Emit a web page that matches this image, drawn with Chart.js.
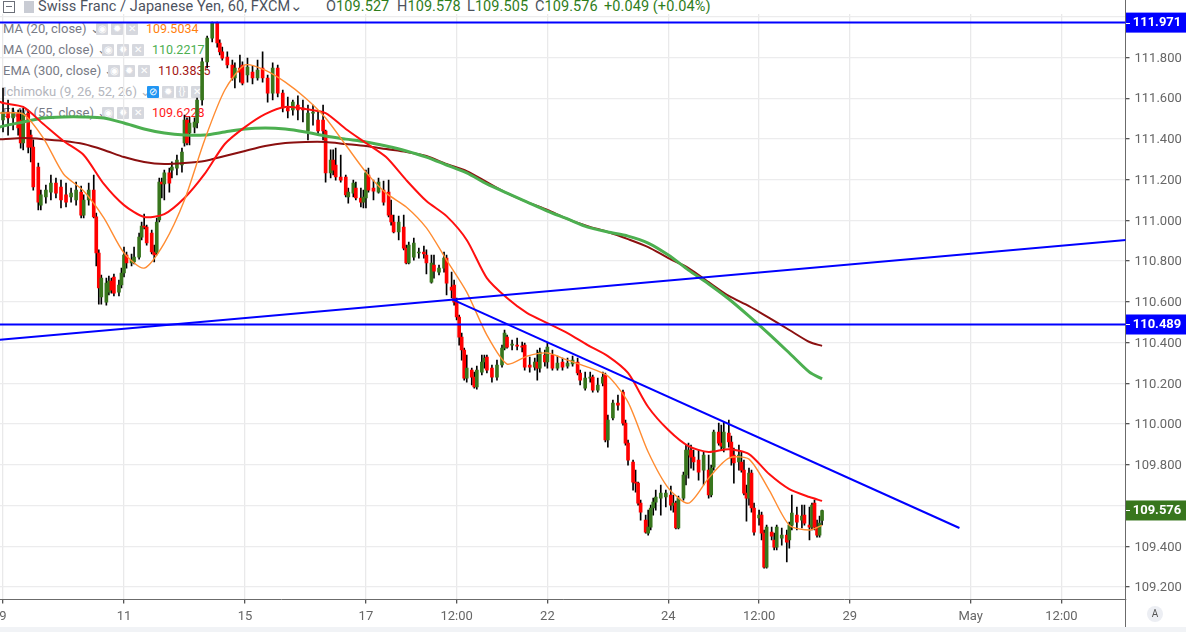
<!DOCTYPE html>
<html>
<head>
<meta charset="utf-8">
<title>CHF/JPY 60</title>
<script src="https://cdn.jsdelivr.net/npm/chart.js@4/dist/chart.umd.min.js"></script>
<style>
  html, body { margin: 0; padding: 0; background: #fff; width: 1186px; height: 632px; overflow: hidden; }
  body { position: relative; font-family: Roboto, "Liberation Sans", sans-serif; color: #4c525e; }
  #chart { position: absolute; left: 0; top: 0; z-index: 1; }
  .header { position: absolute; left: 0; top: 0; width: 1125px; height: 14px; background: #fff; z-index: 2; overflow: hidden; font-size: 14.5px; letter-spacing: 0.08px; line-height: 14px; white-space: nowrap; }
  .header span { position: absolute; top: 0; }
  .header b { font-weight: 400; color: #2f7d1c; }
  .minus { position: absolute; left: 3px; top: 1px; width: 10px; height: 10px; border: 1px solid #6b6f78; }
  .minus::after { content: ""; position: absolute; left: 2px; right: 2px; top: 4px; height: 1px; background: #6b6f78; }
  .flag { position: absolute; left: 24px; top: 1px; width: 10px; height: 12px; background: #c9ccd4; }
  .row { position: absolute; left: 3px; font-size: 13px; line-height: 16px; white-space: nowrap; color: #787b86; z-index: 0; }
  .val { position: absolute; top: 0; font-size: 12.5px; }
  .btn { position: absolute; top: 2px; width: 12px; height: 12px; background: #d6d8de; color: #fff; font-size: 10px; line-height: 12px; text-align: center; border-radius: 1px; font-style: normal; }
  .btn.on { background: #2196f3; }
  .auto { position: absolute; left: 1147px; top: 606px; width: 16px; height: 16px; border-radius: 50%; background: #eceef3; font-size: 10px; line-height: 16px; text-align: center; color: #555; z-index: 2; }
  .axisfoot { position: absolute; left: 1125px; top: 600px; width: 1px; height: 27px; background: #6b6b6b; z-index: 2; }
  .foot { position: absolute; left: 0; top: 627px; width: 1186px; height: 5px; background: #f1f3f6; z-index: 2; }
</style>
</head>
<body>
<div class="row" style="top:21px">MA (20, close) ⌄<i class="btn" style="left:93px">◉</i><i class="btn" style="left:108px">✹</i><i class="btn" style="left:123px">✕</i><span class="val" style="left:143px;color:#ff7f0e">109.5034</span></div>
<div class="row" style="top:42px">MA (200, close) ⌄<i class="btn" style="left:99px">◉</i><i class="btn" style="left:114px">✹</i><i class="btn" style="left:129px">✕</i><span class="val" style="left:149px;color:#4caf50">110.2217</span></div>
<div class="row" style="top:63px">EMA (300, close) ⌄<i class="btn" style="left:105px">◉</i><i class="btn" style="left:120px">✹</i><i class="btn" style="left:135px">✕</i><span class="val" style="left:155px;color:#a31515">110.3835</span></div>
<div class="row" style="top:84px;color:#b4b6bd">Ichimoku (9, 26, 52, 26) ⌄<i class="btn on" style="left:144px">⊘</i><i class="btn" style="left:159px">✹</i><i class="btn" style="left:173px">{}</i><i class="btn" style="left:188px">✕</i></div>
<div class="row" style="top:105px">EMA (55, close) ⌄<i class="btn" style="left:99px">◉</i><i class="btn" style="left:114px">✹</i><i class="btn" style="left:129px">✕</i><span class="val" style="left:149px;color:#ff1a1a">109.6228</span></div>

<canvas id="chart" width="1186" height="632"></canvas>

<div class="header">
  <i class="minus"></i><i class="flag"></i>
  <span style="left:38px">Swiss Franc / Japanese Yen, 60, FXCM⌄</span>
  <span style="left:326px">O<b>109.527</b></span>
  <span style="left:397px">H<b>109.578</b></span>
  <span style="left:467px">L<b>109.505</b></span>
  <span style="left:535px">C<b>109.576</b></span>
  <span style="left:604px"><b>+0.049 (+0.04%)</b></span>
</div>
<div class="axisfoot"></div>
<div class="auto">A</div>
<div class="foot"></div>

<script>
/*************************************************************
 * Data
 *************************************************************/
// Candles: hour = trading hours since the first tick label
const barHours = [
  0, 2, 4, 6, 7, 8, 10, 11, 12, 14,
  15, 17, 19, 21, 23, 25, 27, 29, 31, 32,
  34, 36, 37, 38, 39, 41, 42, 43, 44, 46,
  47, 48, 49, 51, 52, 54, 55, 56, 57, 59,
  60, 61, 62, 63, 64, 66, 67, 69, 71, 72,
  73, 74, 76, 77, 79, 81, 83, 85, 86, 87,
  89, 91, 92, 94, 95, 97, 99, 101, 103, 105,
  107, 109, 111, 113, 115, 117, 119, 121, 123, 125,
  127, 128, 130, 131, 132, 134, 136, 137, 139, 140,
  142, 143, 144, 145, 147, 149, 151, 153, 154, 155,
  157, 159, 160, 161, 163, 165, 167, 168, 170, 171,
  173, 175, 176, 178, 179, 180, 181, 182, 183, 184,
  186, 187, 188, 190, 191, 192, 194, 196, 198, 199,
  200, 202, 204, 206, 207, 209, 211, 212, 213, 215,
  216, 218, 220, 222, 224, 226, 228, 229, 231, 233,
  234, 236, 238, 239, 240, 242, 244, 246, 247, 248,
  250, 251, 252, 253, 255, 256, 257, 258, 259, 261,
  263, 265, 266, 267, 268, 270, 271, 272, 273, 274,
  276, 278, 280, 281, 282, 284, 285, 286, 288, 289,
  290, 292, 293, 294, 295, 296, 297, 298, 300, 301,
  302, 303, 305, 306, 307, 309, 311, 312, 313, 315,
  317, 318, 320, 321, 322, 323, 324, 325,
];
const opens = [
  111.493, 111.532, 111.503, 111.527, 111.493, 111.38, 111.527, 111.419, 111.36, 111.262,
  111.075, 111.115, 111.139, 111.183, 111.164, 111.125, 111.115, 111.1, 111.139, 111.026,
  111.1, 111.149, 111.017, 110.84, 110.624, 110.599, 110.648, 110.702, 110.722, 110.648,
  110.683, 110.742, 110.83, 110.791, 110.796, 110.82, 110.918, 110.972, 110.967, 110.938,
  110.845, 110.84, 111.002, 111.188, 111.179, 111.233, 111.247, 111.257, 111.272, 111.38,
  111.493, 111.429, 111.458, 111.478, 111.591, 111.778, 111.895, 111.969, 111.871, 111.827,
  111.802, 111.763, 111.699, 111.748, 111.763, 111.714, 111.728, 111.699, 111.748, 111.699,
  111.625, 111.748, 111.625, 111.552, 111.542, 111.566, 111.552, 111.439, 111.527, 111.493,
  111.493, 111.439, 111.233, 111.296, 111.272, 111.213, 111.213, 111.115, 111.134, 111.159,
  111.11, 111.09, 111.11, 111.223, 111.159, 111.139, 111.149, 111.139, 111.026, 110.992,
  110.943, 110.967, 110.864, 110.791, 110.82, 110.84, 110.845, 110.83, 110.697, 110.781,
  110.746, 110.766, 110.815, 110.673, 110.683, 110.599, 110.526, 110.427, 110.364, 110.226,
  110.265, 110.231, 110.182, 110.255, 110.305, 110.329, 110.275, 110.231, 110.29, 110.373,
  110.427, 110.388, 110.388, 110.383, 110.388, 110.29, 110.28, 110.305, 110.275, 110.339,
  110.305, 110.339, 110.275, 110.305, 110.285, 110.295, 110.305, 110.251, 110.177, 110.226,
  110.231, 110.167, 110.201, 110.241, 109.922, 110.03, 110.103, 110.157, 110.005, 109.907,
  109.814, 109.715, 109.71, 109.612, 109.529, 109.465, 109.494, 109.588, 109.617, 109.637,
  109.642, 109.652, 109.602, 109.612, 109.49, 109.637, 109.75, 109.848, 109.872, 109.838,
  109.823, 109.774, 109.774, 109.652, 109.789, 109.961, 109.907, 109.882, 109.956, 109.912,
  109.848, 109.814, 109.814, 109.774, 109.661, 109.637, 109.76, 109.588, 109.539, 109.553,
  109.465, 109.298, 109.47, 109.431, 109.396, 109.44, 109.455, 109.431, 109.504, 109.553,
  109.529, 109.553, 109.504, 109.494, 109.612, 109.494, 109.455, 109.527,
];
const highs = [
  111.65, 111.591, 111.552, 111.542, 111.542, 111.552, 111.542, 111.444, 111.395, 111.282,
  111.149, 111.174, 111.223, 111.208, 111.198, 111.183, 111.159, 111.188, 111.169, 111.125,
  111.183, 111.223, 111.036, 110.855, 110.732, 110.717, 110.727, 110.717, 110.737, 110.707,
  110.766, 110.869, 110.845, 110.835, 110.869, 110.938, 110.992, 111.031, 110.977, 110.953,
  110.879, 111.012, 111.208, 111.208, 111.247, 111.257, 111.287, 111.321, 111.355, 111.517,
  111.503, 111.507, 111.503, 111.601, 111.797, 111.905, 111.974, 111.974, 111.886, 111.851,
  111.827, 111.787, 111.773, 111.812, 111.778, 111.797, 111.758, 111.787, 111.827, 111.714,
  111.773, 111.763, 111.64, 111.606, 111.591, 111.611, 111.591, 111.566, 111.566, 111.532,
  111.566, 111.444, 111.346, 111.346, 111.355, 111.321, 111.223, 111.159, 111.198, 111.188,
  111.159, 111.149, 111.247, 111.257, 111.198, 111.208, 111.193, 111.198, 111.1, 111.026,
  111.021, 111.026, 110.879, 110.894, 110.913, 110.864, 110.874, 110.855, 110.83, 110.83,
  110.781, 110.845, 110.83, 110.746, 110.707, 110.619, 110.535, 110.447, 110.373, 110.339,
  110.275, 110.255, 110.285, 110.339, 110.339, 110.339, 110.29, 110.314, 110.388, 110.462,
  110.437, 110.413, 110.422, 110.403, 110.398, 110.329, 110.324, 110.364, 110.373, 110.364,
  110.398, 110.364, 110.334, 110.324, 110.324, 110.334, 110.324, 110.265, 110.255, 110.255,
  110.241, 110.226, 110.255, 110.251, 110.044, 110.118, 110.142, 110.167, 110.02, 109.922,
  109.823, 109.774, 109.715, 109.627, 109.553, 109.578, 109.602, 109.637, 109.676, 109.701,
  109.676, 109.696, 109.652, 109.622, 109.647, 109.764, 109.897, 109.907, 109.897, 109.872,
  109.872, 109.863, 109.848, 109.799, 109.971, 110.005, 109.995, 110.01, 110.02, 109.941,
  109.882, 109.897, 109.863, 109.823, 109.701, 109.784, 109.774, 109.612, 109.578, 109.568,
  109.48, 109.504, 109.494, 109.465, 109.504, 109.49, 109.48, 109.519, 109.652, 109.593,
  109.602, 109.602, 109.593, 109.612, 109.627, 109.529, 109.548, 109.578,
];
const lows = [
  111.434, 111.419, 111.444, 111.419, 111.355, 111.346, 111.331, 111.287, 111.149, 111.051,
  111.051, 111.085, 111.1, 111.11, 111.061, 111.066, 111.09, 111.075, 111.012, 111.012,
  111.075, 111.012, 110.776, 110.589, 110.589, 110.584, 110.634, 110.643, 110.629, 110.629,
  110.668, 110.722, 110.766, 110.776, 110.786, 110.81, 110.904, 110.958, 110.879, 110.835,
  110.796, 110.83, 110.992, 111.11, 111.1, 111.139, 111.208, 111.223, 111.237, 111.365,
  111.37, 111.37, 111.429, 111.454, 111.566, 111.748, 111.876, 111.851, 111.812, 111.787,
  111.748, 111.689, 111.65, 111.679, 111.665, 111.679, 111.67, 111.689, 111.679, 111.581,
  111.591, 111.606, 111.532, 111.503, 111.517, 111.493, 111.483, 111.395, 111.468, 111.419,
  111.395, 111.188, 111.208, 111.223, 111.198, 111.188, 111.115, 111.085, 111.115, 111.1,
  111.066, 111.061, 111.061, 111.139, 111.1, 111.134, 111.075, 111.017, 110.977, 110.938,
  110.904, 110.855, 110.786, 110.786, 110.805, 110.815, 110.815, 110.737, 110.692, 110.717,
  110.732, 110.746, 110.634, 110.619, 110.584, 110.511, 110.388, 110.314, 110.216, 110.206,
  110.192, 110.177, 110.172, 110.241, 110.275, 110.251, 110.206, 110.216, 110.28, 110.364,
  110.373, 110.364, 110.364, 110.354, 110.265, 110.255, 110.265, 110.216, 110.255, 110.285,
  110.275, 110.265, 110.265, 110.265, 110.275, 110.285, 110.241, 110.192, 110.167, 110.206,
  110.157, 110.157, 110.187, 109.912, 109.887, 110.02, 110.069, 109.995, 109.897, 109.799,
  109.676, 109.666, 109.602, 109.529, 109.465, 109.455, 109.48, 109.553, 109.578, 109.553,
  109.593, 109.578, 109.568, 109.485, 109.485, 109.627, 109.701, 109.735, 109.784, 109.774,
  109.725, 109.701, 109.637, 109.642, 109.774, 109.897, 109.872, 109.863, 109.887, 109.799,
  109.71, 109.774, 109.764, 109.652, 109.524, 109.602, 109.568, 109.455, 109.504, 109.431,
  109.293, 109.293, 109.431, 109.382, 109.382, 109.406, 109.323, 109.391, 109.48, 109.48,
  109.49, 109.504, 109.431, 109.48, 109.48, 109.445, 109.445, 109.505,
];
const closes = [
  111.532, 111.503, 111.527, 111.454, 111.38, 111.527, 111.36, 111.36, 111.164, 111.09,
  111.125, 111.149, 111.183, 111.134, 111.1, 111.09, 111.134, 111.149, 111.026, 111.1,
  111.149, 111.017, 110.84, 110.668, 110.717, 110.692, 110.702, 110.658, 110.643, 110.683,
  110.742, 110.83, 110.791, 110.805, 110.82, 110.918, 110.972, 110.967, 110.889, 110.845,
  110.83, 110.992, 111.188, 111.179, 111.233, 111.183, 111.262, 111.296, 111.336, 111.493,
  111.38, 111.478, 111.483, 111.591, 111.778, 111.895, 111.969, 111.871, 111.827, 111.797,
  111.763, 111.699, 111.748, 111.728, 111.674, 111.753, 111.699, 111.738, 111.699, 111.625,
  111.748, 111.625, 111.552, 111.537, 111.581, 111.542, 111.542, 111.527, 111.532, 111.439,
  111.439, 111.233, 111.296, 111.247, 111.213, 111.198, 111.125, 111.139, 111.183, 111.11,
  111.09, 111.115, 111.233, 111.149, 111.144, 111.188, 111.09, 111.026, 110.992, 110.943,
  110.992, 110.864, 110.791, 110.879, 110.889, 110.845, 110.835, 110.791, 110.791, 110.751,
  110.766, 110.815, 110.692, 110.658, 110.599, 110.526, 110.427, 110.364, 110.226, 110.275,
  110.231, 110.182, 110.265, 110.305, 110.324, 110.265, 110.231, 110.29, 110.373, 110.447,
  110.378, 110.393, 110.383, 110.378, 110.28, 110.28, 110.305, 110.275, 110.354, 110.305,
  110.378, 110.275, 110.3, 110.28, 110.3, 110.314, 110.251, 110.216, 110.226, 110.231,
  110.167, 110.192, 110.231, 109.922, 110.02, 110.103, 110.093, 110.005, 109.907, 109.823,
  109.715, 109.71, 109.612, 109.568, 109.47, 109.494, 109.588, 109.617, 109.642, 109.661,
  109.661, 109.602, 109.612, 109.49, 109.637, 109.75, 109.872, 109.872, 109.838, 109.814,
  109.764, 109.848, 109.652, 109.784, 109.961, 109.907, 109.892, 109.961, 109.912, 109.833,
  109.809, 109.848, 109.774, 109.661, 109.637, 109.76, 109.588, 109.47, 109.553, 109.465,
  109.298, 109.494, 109.45, 109.396, 109.494, 109.455, 109.421, 109.504, 109.563, 109.519,
  109.548, 109.514, 109.494, 109.602, 109.494, 109.455, 109.514, 109.576,
];

// Moving averages, read every eight bars
const maHours = [
  -2, 0, 8, 16, 24, 32, 40, 48, 56, 64, 72,
  80, 88, 96, 104, 112, 120, 128, 136, 144, 152,
  160, 168, 176, 184, 192, 200, 208, 216, 224, 232,
  240, 248, 256, 264, 272, 280, 288, 296, 304, 312,
  320, 325,
];
const ma20 = [
  111.527, 111.527, 111.522, 111.404, 111.228, 111.144, 111.012, 110.84, 110.766, 110.889, 111.1,
  111.395, 111.64, 111.763, 111.738, 111.679, 111.601, 111.503, 111.37, 111.237, 111.134,
  111.066, 110.963, 110.805, 110.648, 110.437, 110.295, 110.334, 110.349, 110.314, 110.28,
  110.236, 110.108, 109.863, 109.686, 109.612, 109.735, 109.833, 109.828, 109.676, 109.504,
  109.48, 109.503,
];
const ema55 = [
  111.586, 111.576, 111.557, 111.473, 111.39, 111.321, 111.179, 111.075, 111.017, 111.031, 111.11,
  111.228, 111.375, 111.458, 111.522, 111.557, 111.547, 111.527, 111.449, 111.38, 111.311,
  111.198, 111.095, 111.021, 110.904, 110.717, 110.619, 110.545, 110.496, 110.447, 110.388,
  110.334, 110.251, 110.084, 109.971, 109.892, 109.863, 109.877, 109.853, 109.755, 109.681,
  109.642, 109.623,
];
const ma200 = [
  111.455, 111.463, 111.483, 111.503, 111.508, 111.508, 111.503, 111.478, 111.449, 111.429, 111.419,
  111.419, 111.434, 111.449, 111.454, 111.449, 111.434, 111.414, 111.399, 111.385, 111.365,
  111.341, 111.311, 111.272, 111.233, 111.179, 111.134, 111.09, 111.046, 111.007, 110.967,
  110.943, 110.923, 110.889, 110.83, 110.756, 110.688, 110.614, 110.53, 110.442, 110.349,
  110.255, 110.222,
];
const ema300 = [
  111.399, 111.399, 111.404, 111.399, 111.39, 111.375, 111.346, 111.311, 111.287, 111.277, 111.282,
  111.292, 111.316, 111.341, 111.365, 111.38, 111.385, 111.385, 111.375, 111.365, 111.35,
  111.336, 111.316, 111.277, 111.242, 111.188, 111.134, 111.09, 111.051, 111.007, 110.972,
  110.943, 110.908, 110.869, 110.815, 110.766, 110.697, 110.629, 110.579, 110.521, 110.462,
  110.403, 110.384,
];

// Drawn levels and trend lines
const levels = [111.971, 110.489];
const risingHours = [-2, 446];
const risingLine = [110.413, 110.904];
const fallingHours = [178, 379.5];
const fallingLine = [110.614, 109.49];

// Axes
const priceTicks = [109.2, 109.4, 109.6, 109.8, 110, 110.2, 110.4, 110.6, 110.8, 111, 111.2, 111.4, 111.6, 111.8, 112];
const hiddenPriceLabels = [109.6, 112];
const timeTicks = [0, 48, 96, 144, 180, 216, 264, 300, 336, 384, 420];
const timeLabels = ["9", "11", "15", "17", "12:00", "22", "24", "12:00", "29", "May", "12:00"];
const lastPrice = 109.576;

/*************************************************************
 * Datasets
 *************************************************************/
const RED = "#ff0000";
const GREEN = "#38761d";
const BLUE = "#0000ff";

const xy = (xs, ys) => xs.map((x, i) => ({ x: x, y: ys[i] }));

const lineDataset = (data, color, width, order, tension) => ({
  type: "line",
  data: data,
  borderColor: color,
  borderWidth: width,
  pointRadius: 0,
  tension: tension,
  order: order,
});

const wicks = {
  type: "bar",
  data: barHours.map((x, i) => ({ x: x, y: [lows[i], highs[i]] })),
  backgroundColor: "#000",
  barThickness: 1,
  grouped: false,
  order: 20,
};

const bodies = {
  type: "bar",
  data: barHours.map((x, i) => ({ x: x, y: [opens[i], closes[i]] })),
  backgroundColor: barHours.map((x, i) => (closes[i] >= opens[i] ? GREEN : RED)),
  barThickness: 3,
  grouped: false,
  minBarLength: 1,
  order: 19,
};

const levelDatasets = levels.map((level) =>
  lineDataset(xy(risingHours, [level, level]), BLUE, 2, 1, 0)
);

/*************************************************************
 * Price tags on the right axis
 *************************************************************/
const priceTags = {
  id: "priceTags",
  afterDraw: (chart) => {
    const { ctx } = chart;
    const y = chart.scales.y;
    const tags = [
      [levels[0], BLUE],
      [levels[1], BLUE],
      [lastPrice, GREEN],
    ];

    ctx.save();
    ctx.textAlign = "center";
    ctx.textBaseline = "middle";
    ctx.font = "bold 13px Roboto, 'Liberation Sans', sans-serif";
    tags.forEach(([price, color]) => {
      const py = y.getPixelForValue(price);
      ctx.fillStyle = color;
      ctx.fillRect(1126, py - 10, 60, 20);
      ctx.fillStyle = "#fff";
      ctx.fillRect(1126, Math.round(py), 4, 1);
      ctx.fillText(price.toFixed(3), 1157, py + 0.5);
    });
    ctx.restore();
  },
};

/*************************************************************
 * Chart
 *************************************************************/
new Chart(document.getElementById("chart"), {
  data: {
    datasets: [
      wicks,
      bodies,
      lineDataset(xy(maHours, ema300), "#8b1010", 2, 7, 0.25),
      lineDataset(xy(maHours, ma200), "#4caf50", 3, 6, 0.25),
      lineDataset(xy(maHours, ema55), "#ff1010", 2, 5, 0.25),
      lineDataset(xy(maHours, ma20), "#ff8c32", 1.4, 4, 0.25),
      lineDataset(xy(risingHours, risingLine), BLUE, 2, 2, 0),
      lineDataset(xy(fallingHours, fallingLine), BLUE, 2, 2, 0),
      ...levelDatasets,
    ],
  },
  options: {
    responsive: false,
    animation: false,
    events: [],
    layout: { autoPadding: false, padding: { left: 0, top: 0, right: 0, bottom: 6 } },
    plugins: { legend: { display: false }, tooltip: { enabled: false } },
    scales: {
      x: {
        type: "linear",
        offset: false,
        min: -1.2,
        max: 445.4,
        afterFit: (scale) => {
          scale.height = 26.5;
          scale.paddingLeft = 0;
          scale.paddingRight = 0;
        },
        afterBuildTicks: (scale) => {
          scale.ticks = timeTicks.map((value) => ({ value: value }));
        },
        border: { color: "#6b6b6b", width: 1 },
        grid: { offset: false, color: "#e9e9ea", lineWidth: 1.3, tickColor: "#555", tickLength: 4 },
        ticks: {
          autoSkip: false,
          maxRotation: 0,
          padding: 5,
          color: "#666",
          font: { family: "Roboto", size: 13 },
          callback: (value, index) => timeLabels[index],
        },
      },
      y: {
        type: "linear",
        position: "right",
        min: 109.139,
        max: 112.082,
        afterFit: (scale) => {
          scale.width = 60.5;
          scale.paddingTop = 0;
          scale.paddingBottom = 0;
        },
        afterBuildTicks: (scale) => {
          scale.ticks = priceTicks.map((value) => ({ value: value }));
        },
        border: { color: "#6b6b6b", width: 1 },
        grid: { color: "#ececed", lineWidth: 1.3, tickColor: "#555", tickLength: 4 },
        ticks: {
          autoSkip: false,
          padding: 5,
          labelOffset: 1,
          color: "#666",
          font: { family: "Roboto", size: 13 },
          callback: (value) => (hiddenPriceLabels.includes(value) ? "" : value.toFixed(3)),
        },
      },
    },
  },
  plugins: [priceTags],
});
</script>
</body>
</html>
